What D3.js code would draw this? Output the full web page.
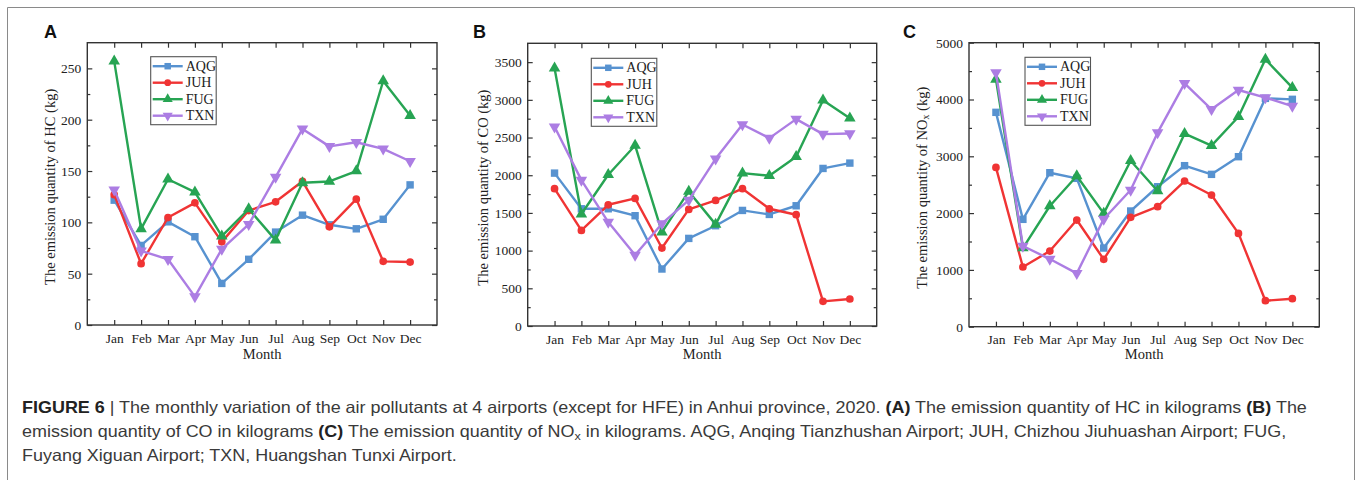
<!DOCTYPE html>
<html>
<head>
<meta charset="utf-8">
<script src="https://cdn.jsdelivr.net/npm/d3@7"></script>
<style>
  html, body { margin: 0; padding: 0; background: #fff; }
  svg { display: block; }
</style>
</head>
<body>
<svg id="chart" width="1358" height="480"></svg>
<script>
// ---------------- DATA ----------------
const months = ["Jan","Feb","Mar","Apr","May","Jun","Jul","Aug","Sep","Oct","Nov","Dec"];
const seriesNames = ["AQG","JUH","FUG","TXN"];

// Panel A: HC (kg)
const hcAQG = [121.6, 77.5, 100.5, 86, 40.5, 64, 90.5, 107, 97.6, 93.7, 103, 136.5];
const hcJUH = [127, 59.7, 104.7, 119, 81, 111.5, 120, 140, 95.6, 122.6, 62, 61.3];
const hcFUG = [257, 93.7, 142, 129.4, 86.6, 113, 82.7, 138.5, 139.8, 150, 237.7, 204];
const hcTXN = [131.6, 72.3, 64, 27.6, 74, 98, 144, 191, 174, 178, 171.5, 159.5];
const hcTicks = [0, 50, 100, 150, 200, 250];

// Panel B: CO (kg)
const coAQG = [2028, 1555, 1555, 1463, 756, 1162, 1330, 1533, 1480, 1595, 2090, 2161];
const coJUH = [1821, 1268, 1608, 1692, 1034, 1547, 1666, 1821, 1555, 1476, 327, 358];
const coFUG = [3420, 1485, 2006, 2395, 1246, 1785, 1348, 2028, 1993, 2245, 2996, 2757];
const coTXN = [2643, 1935, 1379, 941, 1357, 1670, 2218, 2673, 2492, 2744, 2545, 2554];
const coTicks = [0, 500, 1000, 1500, 2000, 2500, 3000, 3500];

// Panel C: NOx (kg)
const noxAQG = [3774, 1890, 2711, 2612, 1385, 2037, 2465, 2835, 2682, 2993, 4020, 4003];
const noxJUH = [2805, 1051, 1332, 1878, 1186, 1925, 2113, 2565, 2318, 1643, 458, 493];
const noxFUG = [4355, 1385, 2125, 2653, 1995, 2923, 2389, 3398, 3187, 3697, 4707, 4208];
const noxTXN = [4472, 1420, 1191, 939, 1896, 2406, 3416, 4284, 3827, 4167, 4032, 3885];
const noxTicks = [0, 1000, 2000, 3000, 4000, 5000];

// ---------------- STYLE ----------------
const colors = { AQG: "#5792d0", JUH: "#f03434", FUG: "#27a453", TXN: "#ac7de3" };
const markers = { AQG: "square", JUH: "circle", FUG: "tri", TXN: "tridown" };
const serif = "'Liberation Serif', 'Times New Roman', serif";

const panels = [
  { label: "A", data: [hcAQG, hcJUH, hcFUG, hcTXN], ticks: hcTicks, yMax: 275, minorStep: 25,
    x0: 87.3, x1: 437, y0: 42.7, y1: 325, labelX: 44, titleX: 52, title: ["The emission quantity of HC (kg)"],
    legX: 150.7, legY: 56.7 },
  { label: "B", data: [coAQG, coJUH, coFUG, coTXN], ticks: coTicks, yMax: 3750, minorStep: 250,
    x0: 527.7, x1: 876.7, y0: 43.3, y1: 326, labelX: 473, titleX: 485, title: ["The emission quantity of CO (kg)"],
    legX: 591.3, legY: 58.3 },
  { label: "C", data: [noxAQG, noxJUH, noxFUG, noxTXN], ticks: noxTicks, yMax: 5000, minorStep: 500,
    x0: 969, x1: 1319.3, y0: 42.7, y1: 326.7, labelX: 903, titleX: 923.5, title: ["The emission quantity of NO", "x", " (kg)"],
    legX: 1025, legY: 57.3 }
];

const svg = d3.select("#chart");

// outer frame
svg.append("path")
  .attr("d", "M7.5,482 L7.5,7.5 L1354.5,7.5 L1354.5,482")
  .attr("fill", "none").attr("stroke", "#8a8a8a").attr("stroke-width", 1);

function markerPath(type, size) {
  if (type === "square") return d3.symbol(d3.symbolSquare, size * 1.0)();
  if (type === "circle") return d3.symbol(d3.symbolCircle, size * 0.85)();
  return d3.symbol(d3.symbolTriangle, size * 1.05)();
}

panels.forEach(p => {
  const g = svg.append("g");
  const x = d3.scaleLinear().domain([0, 13]).range([p.x0, p.x1]);
  const y = d3.scaleLinear().domain([0, p.yMax]).range([p.y1, p.y0]);

  const monthIdx = months.map((m, i) => i + 1);
  const minorTicks = d3.range(p.minorStep, p.yMax, p.minorStep * 2);

  const styleAxis = sel => {
    sel.select(".domain").remove();
    sel.selectAll(".tick line").attr("stroke", "#333").attr("stroke-width", 1.2);
    sel.selectAll("text").attr("font-family", serif).attr("font-size", 13.5).attr("fill", "#222");
  };
  g.append("g").attr("transform", `translate(${p.x0},0)`)
    .call(d3.axisLeft(y).tickValues(p.ticks).tickSize(-5).tickPadding(6).tickFormat(d3.format("d")))
    .call(styleAxis);
  g.append("g").attr("transform", `translate(${p.x0},0)`)
    .call(d3.axisLeft(y).tickValues(minorTicks).tickSize(-3).tickFormat(""))
    .call(styleAxis);
  g.append("g").attr("transform", `translate(${p.x1},0)`)
    .call(d3.axisRight(y).tickValues(p.ticks).tickSize(-5).tickFormat(""))
    .call(styleAxis);
  g.append("g").attr("transform", `translate(${p.x1},0)`)
    .call(d3.axisRight(y).tickValues(minorTicks).tickSize(-3).tickFormat(""))
    .call(styleAxis);
  g.append("g").attr("transform", `translate(0,${p.y1})`)
    .call(d3.axisBottom(x).tickValues(monthIdx).tickSize(-5).tickPadding(8).tickFormat(d => months[d - 1]))
    .call(styleAxis);
  g.append("g").attr("transform", `translate(0,${p.y0})`)
    .call(d3.axisTop(x).tickValues(monthIdx).tickSize(-5).tickFormat(""))
    .call(styleAxis);

  g.append("rect").attr("x", p.x0).attr("y", p.y0)
    .attr("width", p.x1 - p.x0).attr("height", p.y1 - p.y0)
    .attr("fill", "none").attr("stroke", "#333").attr("stroke-width", 1.4);

  seriesNames.forEach((name, si) => {
    const vals = p.data[si];
    const line = d3.line().x((d, i) => x(i + 1)).y(d => y(d));
    g.append("path").datum(vals).attr("d", line)
      .attr("fill", "none").attr("stroke", colors[name]).attr("stroke-width", 2.4)
      .attr("stroke-linejoin", "round");
    g.selectAll(null).data(vals).enter().append("path")
      .attr("d", markerPath(markers[name], 55))
      .attr("transform", (d, i) => `translate(${x(i + 1)},${y(d)})` + (markers[name] === "tridown" ? " rotate(180)" : ""))
      .attr("fill", colors[name]);
  });

  const lg = g.append("g").attr("transform", `translate(${p.legX},${p.legY})`);
  lg.append("rect").attr("width", 65.5).attr("height", 68)
    .attr("fill", "#fff").attr("stroke", "#555").attr("stroke-width", 1.1);
  seriesNames.forEach((name, si) => {
    const cy = 9.5 + si * 16.5;
    lg.append("line").attr("x1", 2).attr("x2", 32).attr("y1", cy).attr("y2", cy)
      .attr("stroke", colors[name]).attr("stroke-width", 2.4);
    lg.append("path").attr("d", markerPath(markers[name], 42))
      .attr("transform", `translate(17,${cy})` + (markers[name] === "tridown" ? " rotate(180)" : ""))
      .attr("fill", colors[name]);
    lg.append("text").attr("x", 35).attr("y", cy + 4.6).text(name)
      .attr("font-family", serif).attr("font-size", 14).attr("fill", "#222");
  });

  g.append("text").attr("x", (x(1) + x(12)) / 2).attr("y", 358.5)
    .attr("text-anchor", "middle").attr("font-family", serif).attr("font-size", 14.5).attr("fill", "#222")
    .text("Month");

  const yt = g.append("text")
    .attr("transform", `translate(${p.titleX},${(p.y0 + p.y1) / 2 + 3}) rotate(-90)`)
    .attr("text-anchor", "middle").attr("dominant-baseline", "middle")
    .attr("font-family", serif).attr("font-size", 14.5).attr("fill", "#222");
  if (p.title.length === 1) {
    yt.text(p.title[0]);
  } else {
    yt.append("tspan").text(p.title[0]);
    yt.append("tspan").text(p.title[1]).attr("font-size", 10).attr("dy", 3);
    yt.append("tspan").text(p.title[2]).attr("dy", -3);
  }

  g.append("text").attr("x", p.labelX).attr("y", 37.8).text(p.label)
    .attr("font-family", "'Liberation Sans', Arial, sans-serif").attr("font-weight", "bold")
    .attr("font-size", 18).attr("fill", "#111");
});

// ---------------- CAPTION ----------------
const capFont = "'Liberation Sans', Arial, sans-serif";
const capSize = 16.5;
const cap = svg.append("g").attr("font-family", capFont).attr("font-size", capSize).attr("fill", "#3a3a3a");

function capLine(yPos) {
  return cap.append("text").attr("x", 0).attr("y", 0).attr("data-y", yPos);
}
const line1 = capLine(412.5);
line1.append("tspan").attr("font-weight", "bold").attr("fill", "#222").text("FIGURE 6");
line1.append("tspan").text(" | The monthly variation of the air pollutants at 4 airports (except for HFE) in Anhui province, 2020. ");
line1.append("tspan").attr("font-weight", "bold").attr("fill", "#222").text("(A)");
line1.append("tspan").text(" The emission quantity of HC in kilograms ");
line1.append("tspan").attr("font-weight", "bold").attr("fill", "#222").text("(B)");
line1.append("tspan").text(" The");

const line2 = capLine(436.5);
line2.append("tspan").text("emission quantity of CO in kilograms ");
line2.append("tspan").attr("font-weight", "bold").attr("fill", "#222").text("(C)");
line2.append("tspan").text(" The emission quantity of NO");
line2.append("tspan").attr("font-size", capSize * 0.7).attr("dy", 3).text("x");
line2.append("tspan").attr("dy", -3).text(" in kilograms. AQG, Anqing Tianzhushan Airport; JUH, Chizhou Jiuhuashan Airport; FUG,");

const line3 = capLine(460.5);
line3.append("tspan").text("Fuyang Xiguan Airport; TXN, Huangshan Tunxi Airport.");

// condensed look: squeeze horizontally so line 1 spans the reference width
const target1 = 1308 - 22;
const w1 = line1.node().getComputedTextLength();
const sx = w1 > 0 ? target1 / w1 : 1;
[line1, line2, line3].forEach(t => {
  t.attr("transform", `translate(22,${t.attr("data-y")}) scale(${sx},1)`);
});
</script>
</body>
</html>
